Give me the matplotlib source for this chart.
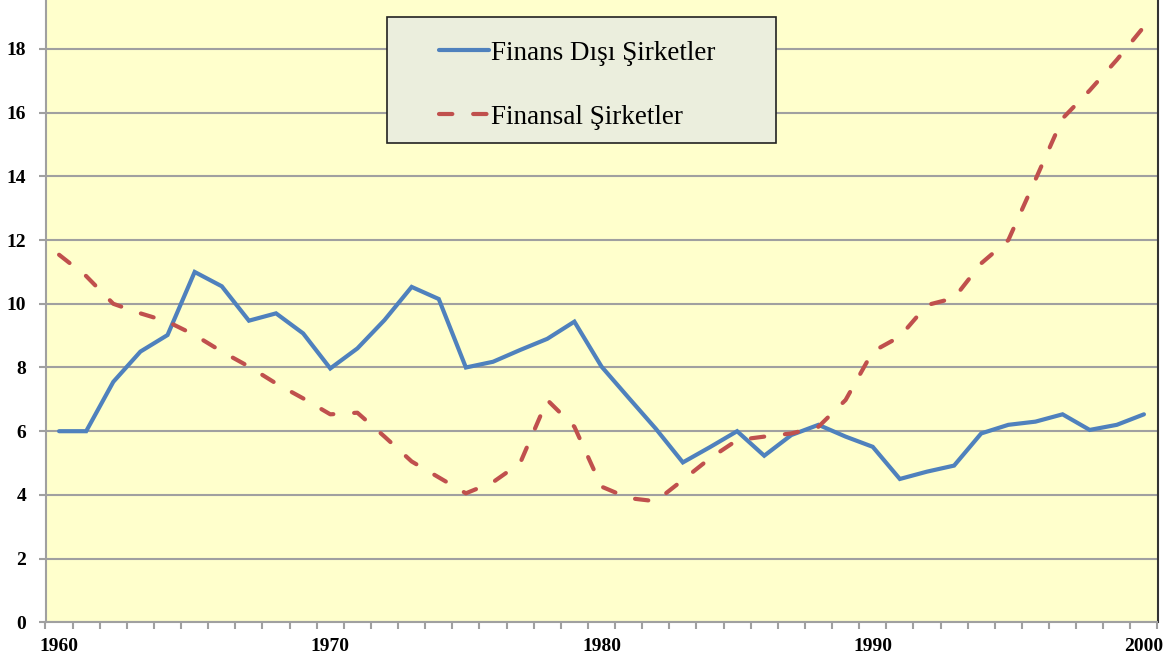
import numpy as np
import matplotlib.pyplot as plt
from matplotlib.patches import Rectangle

years = list(range(1960, 2001))
finans_disi = [6.0, 6.0, 7.55, 8.5, 9.02, 11.0, 10.55, 9.47, 9.7, 9.07,
               7.97, 8.6, 9.49, 10.53, 10.15, 8.0, 8.18, 8.55, 8.9, 9.44,
               8.03, 7.05, 6.08, 5.02, 5.5, 6.0, 5.23, 5.88, 6.2, 5.83,
               5.51, 4.5, 4.73, 4.92, 5.93, 6.2, 6.3, 6.53, 6.04, 6.2, 6.53]
finansal = [11.54, 10.87, 10.0, 9.7, 9.44, 9.02, 8.5, 8.03, 7.5, 7.03,
            6.53, 6.58, 5.83, 5.05, 4.55, 4.05, 4.4, 5.0, 6.98, 6.14,
            4.26, 3.9, 3.8, 4.47, 5.15, 5.72, 5.83, 5.93, 6.14, 6.98,
            8.5, 8.97, 9.96, 10.18, 11.27, 12.0, 13.9, 15.82, 16.7, 17.66, 18.7]
labels = ['Finans Dışı Şirketler', 'Finansal Şirketler']
year_labels = [1960, 1970, 1980, 1990, 2000]

W, H = 1172, 662
fig = plt.figure(figsize=(W / 100, H / 100), dpi=100)
fig.patch.set_facecolor('white')
ax = fig.add_axes([45.5 / W, (H - 622.3) / H, (1157.5 - 45.5) / W, 622.3 / H])
ax.set_facecolor('#FFFFCC')

ax.plot(years, finans_disi, color='#4F81BD', lw=3.0, solid_capstyle='round',
        solid_joinstyle='miter', label=labels[0], zorder=3)
ax.plot(years, finansal, color='#C0504D', lw=3.0, dashes=(3.2, 5),
        dash_capstyle='round', label=labels[1], zorder=3)

ax.set_xlim(1959.5, 2000.5)
ax.set_ylim(0, 622.3 / 31.85)
ax.set_yticks(np.arange(0, 19, 2))
ax.set_xticks(year_labels)
ax.set_xticks(np.arange(1959.5, 2001, 1), minor=True)
ax.yaxis.grid(True, color='#A0A0A0', lw=1.5)
ax.set_axisbelow(True)

for s in ['left', 'bottom']:
    ax.spines[s].set_color('#A0A0A0')
    ax.spines[s].set_linewidth(1.5)
ax.spines['top'].set_visible(False)
ax.spines['right'].set_color('#333333')
ax.spines['right'].set_linewidth(1.5)

ax.tick_params(axis='y', direction='out', length=5, width=1.5, color='#A0A0A0',
               pad=9, labelsize=14)
ax.tick_params(axis='x', which='major', length=0, pad=11, labelsize=14)
ax.tick_params(axis='x', which='minor', direction='out', length=5, width=1.5,
               color='#A0A0A0')
for t in ax.get_xticklabels() + ax.get_yticklabels():
    t.set_family('Liberation Serif')
    t.set_fontweight('bold')

# legend box
fig.patches.append(Rectangle((387 / W, 1 - 143 / H), (776 - 387) / W, 126 / H,
                             transform=fig.transFigure, facecolor='#EBEEDD',
                             edgecolor='#222222', lw=1.2, zorder=5))
leg = fig.legend(loc='upper left', bbox_to_anchor=(425 / W, 1 - 27 / H),
                 frameon=False, borderpad=0, handlelength=1.85,
                 handletextpad=0.1, labelspacing=1.45,
                 prop={'family': 'Liberation Serif', 'size': 19.5})
leg.set_zorder(6)

plt.savefig('out.png', dpi=100)
